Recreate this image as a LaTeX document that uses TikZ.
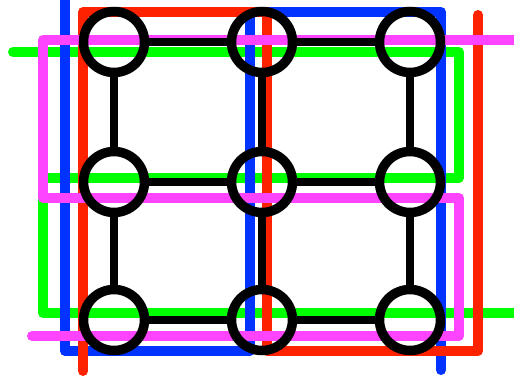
\documentclass[tikz,border=0pt]{standalone}
\usepackage{tikz}
\definecolor{lred}{RGB}{255,34,0}
\definecolor{lblue}{RGB}{0,51,255}
\definecolor{lgreen}{RGB}{0,255,0}
\definecolor{lpink}{RGB}{255,68,255}
\begin{document}
\begin{tikzpicture}[x=.2mm,y=-.2mm,
  route/.style={line width=2mm,line join=round,line cap=round},
  stop/.style={circle,draw,line width=1.9mm,minimum size=12.2mm,inner sep=0pt},
  link/.style={line width=1.6mm}]
\useasboundingbox (0,0) rectangle (514,383);
% coloured lines
\draw[route,lgreen] (13,52)--(459,52)--(459,178)--(43,178)--(43,313)--(525,313);
\draw[route,lblue] (65,-10)--(65,351)--(250,351)--(250,12)--(441,12)--(441,370);
\draw[route,lred] (83,371)--(83,12)--(267,12)--(267,351)--(478,351)--(478,15);
\draw[route,lpink] (525,40)--(43,40)--(43,198)--(459,198)--(459,336)--(32,336);
% stations
\foreach \x/\c in {114/a,262/b,410/c}\foreach \y/\r in {42/1,182/2,320/3}
  \node[stop] (\c\r) at (\x,\y) {};
\foreach \r in {1,2,3}\draw[link] (a\r)--(b\r) (b\r)--(c\r);
\foreach \c in {a,b,c}\draw[link] (\c1)--(\c2) (\c2)--(\c3);
\end{tikzpicture}
\end{document}
